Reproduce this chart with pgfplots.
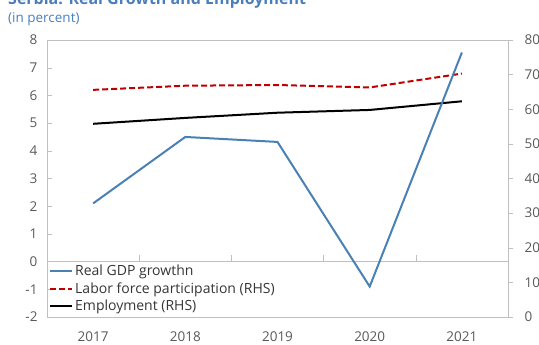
\documentclass[border=0pt]{standalone}
\usepackage{pgfplots}
\pgfplotsset{compat=1.18}
\usepackage{fontspec}
\setmainfont{Open Sans}
\definecolor{gdpblue}{HTML}{4A81B5}
\definecolor{lfred}{HTML}{C00000}
\definecolor{tickgray}{HTML}{595959}
\definecolor{framegray}{HTML}{BFBFBF}
\definecolor{titleblue}{HTML}{4A7EBB}
\begin{document}
\begin{tikzpicture}[x=1pt,y=1pt]
\path[use as bounding box] (0,0) rectangle (539,345);
\node[anchor=base west, inner sep=0pt, text=titleblue, font=\fontsize{16}{18}\selectfont\bfseries] at (8,340) {Serbia: Real Growth and Employment};
\node[anchor=base west, inner sep=0pt, text=titleblue, font=\fontsize{13.5}{16}\selectfont] at (8,322.3) {(in percent)};
% right axis
\begin{axis}[
  at={(47pt,28pt)}, anchor=south west, scale only axis,
  width=461pt, height=277pt,
  xmin=-0.5, xmax=4.5, ymin=0, ymax=80,
  axis y line*=right, axis x line=none,
  ytick={0,10,...,80},
  tick align=outside, major tick length=5pt,
  every tick/.style={framegray},
  axis line style={framegray},
  /pgf/number format/assume math mode=true,
  tick label style={font=\fontsize{13.5}{16}\selectfont, text=tickgray},
  yticklabel style={xshift=8pt},
]
\addplot[lfred, line width=2pt, dash pattern=on 6pt off 3pt] coordinates {(0,65.6) (1,66.8) (2,67.0) (3,66.3) (4,70.3)};
\addplot[black, line width=2pt] coordinates {(0,55.8) (1,57.5) (2,59.0) (3,59.8) (4,62.3)};
\end{axis}
% left axis
\begin{axis}[
  at={(47pt,28pt)}, anchor=south west, scale only axis,
  width=461pt, height=277pt,
  xmin=-0.5, xmax=4.5, ymin=-2, ymax=8,
  axis y line*=left, axis x line*=box,
  axis line style={framegray},
  xtick={0,1,2,3,4}, xticklabels={2017,2018,2019,2020,2021},
  x tick style={draw=none},
  ytick={-2,-1,...,8},
  y tick style={framegray},
  tick align=inside, major tick length=5pt,
  /pgf/number format/assume math mode=true,
  tick label style={font=\fontsize{13.5}{16}\selectfont, text=tickgray},
  xticklabel style={yshift=-11pt},
  yticklabel style={xshift=-6pt},
  legend style={draw=none, fill=none, at={(0,0.2)}, anchor=north west,
    font=\fontsize{14}{16}\selectfont, text=tickgray!60!black, row sep=1.5pt,
    inner xsep=2pt, inner ysep=1pt},
  legend cell align=left,
  legend image code/.code={\draw[#1] (0pt,0pt) -- (22pt,0pt);},
]
\draw[framegray] (axis cs:-0.5,0) -- (axis cs:4.5,0);
\draw[framegray] (axis cs:0.5,0) -- (axis cs:0.5,0.25);
\draw[framegray] (axis cs:1.5,0) -- (axis cs:1.5,0.25);
\draw[framegray] (axis cs:2.5,0) -- (axis cs:2.5,0.25);
\draw[framegray] (axis cs:3.5,0) -- (axis cs:3.5,0.25);
\draw[framegray] (axis cs:-0.5,-2) rectangle (axis cs:4.5,8);
\addplot[gdpblue, line width=2pt] coordinates {(0,2.1) (1,4.5) (2,4.32) (3,-0.9) (4,7.55)};
\addlegendentry{Real GDP growthn}
\addlegendimage{lfred, line width=2pt, dash pattern=on 6pt off 3pt}
\addlegendentry{Labor force participation (RHS)}
\addlegendimage{black, line width=2pt}
\addlegendentry{Employment (RHS)}
\end{axis}
\end{tikzpicture}
\end{document}
